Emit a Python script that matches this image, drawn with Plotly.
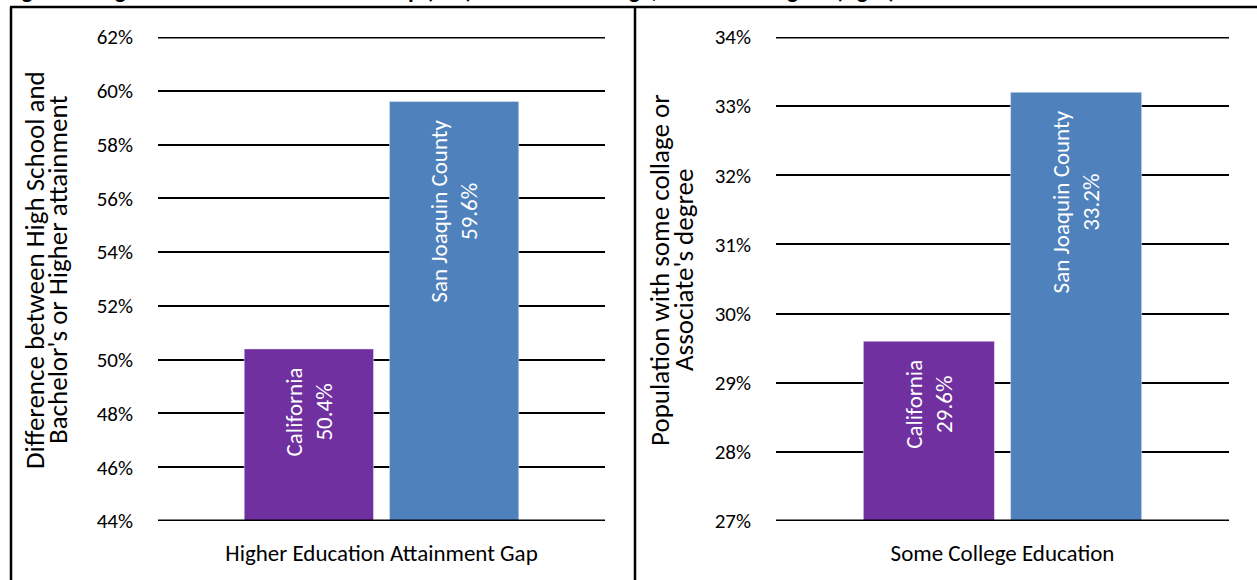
import plotly.graph_objects as go

regions = ["California", "San Joaquin County"]
gap_values = [50.4, 59.6]
some_college_values = [29.6, 33.2]
colors = ["#7030A0", "#4F81BD"]
left_category = "Higher Education Attainment Gap"
right_category = "Some College Education"
left_ticks = [44, 46, 48, 50, 52, 54, 56, 58, 60, 62]
right_ticks = [27, 28, 29, 30, 31, 32, 33, 34]
left_title = ["Difference between High School and", "Bachelor's or Higher attainment"]
right_title = ["Population with some collage or", "Associate's degree"]
title_text = "Figure 4: Higher Education Attainment Gap (left) and Some College, Associate Degree (right)"

FONT = "Carlito, Lato, Open Sans, sans-serif"
W, H = 1257, 580
NB = "\u00a0"

fig = go.Figure()
for i, r in enumerate(regions):
    fig.add_trace(go.Bar(
        x=[left_category], y=[gap_values[i]], name=r, marker_color=colors[i],
        text=[f"{r}{NB*3}<br>{gap_values[i]:.1f}%{NB*3}"], textposition="inside",
        insidetextanchor="end", textangle=-90,
        textfont=dict(color="white", size=23, family=FONT),
        xaxis="x", yaxis="y", showlegend=False))
for i, r in enumerate(regions):
    fig.add_trace(go.Bar(
        x=[right_category], y=[some_college_values[i]], name=r, marker_color=colors[i],
        text=[f"{r}{NB*3}<br>{some_college_values[i]:.1f}%{NB*3}"], textposition="inside",
        insidetextanchor="end", textangle=-90,
        textfont=dict(color="white", size=23, family=FONT),
        xaxis="x2", yaxis="y2", showlegend=False))

ydom = [1 - 521 / H, 1 - 37 / H]
common_y = dict(showgrid=True, gridcolor="black", gridwidth=1.6, zeroline=False,
                showline=False, ticks="", ticklabelstandoff=24, automargin=False,
                tickfont=dict(size=21, family=FONT, color="black"), domain=ydom)
common_x = dict(showgrid=False, showline=False, ticks="", zeroline=False,
                automargin=False, ticklabelstandoff=16,
                tickfont=dict(size=23, family=FONT, color="black"))

fig.update_layout(
    width=W, height=H, margin=dict(l=0, r=0, t=0, b=0),
    paper_bgcolor="white", plot_bgcolor="white",
    barmode="group", bargap=0.35, bargroupgap=0.11,
    font=dict(family=FONT, color="black"),
    xaxis=dict(domain=[158 / W, 605 / W], anchor="y", **common_x),
    yaxis=dict(range=[left_ticks[0], left_ticks[-1]], tickvals=left_ticks,
               ticktext=[f"{v}%" for v in left_ticks], anchor="x", **common_y),
    xaxis2=dict(domain=[776 / W, 1229 / W], anchor="y2", **common_x),
    yaxis2=dict(range=[right_ticks[0], right_ticks[-1]], tickvals=right_ticks,
                ticktext=[f"{v}%" for v in right_ticks], anchor="x2", **common_y),
)

# gridlines at the range edges (plotly omits them); half is clipped by the plot area
for xr, yr, ticks in (("x domain", "y", left_ticks), ("x2 domain", "y2", right_ticks)):
    for v in (ticks[0], ticks[-1]):
        fig.add_shape(type="line", xref=xr, yref=yr, x0=0, x1=1, y0=v, y1=v,
                      line=dict(color="black", width=3.2), layer="above")

# rotated axis titles, one annotation per line
for xs, lines in (((35, 58), left_title), ((660, 684), right_title)):
    for xp, txt in zip(xs, lines):
        fig.add_annotation(text=txt, xref="paper", yref="paper", x=xp / W, y=1 - 270 / H,
                           xanchor="center", yanchor="middle", textangle=-90, showarrow=False,
                           font=dict(size=27, family=FONT, color="black"))

# panel borders
line = dict(color="black", width=2.5)
fig.add_shape(type="line", xref="paper", yref="paper", x0=10 / W, x1=1, y0=1 - 7 / H, y1=1 - 7 / H, line=line)
fig.add_shape(type="line", xref="paper", yref="paper", x0=11 / W, x1=11 / W, y0=0, y1=1 - 7 / H, line=line)
fig.add_shape(type="line", xref="paper", yref="paper", x0=635 / W, x1=635 / W, y0=0, y1=1 - 7 / H, line=line)

# clipped title
fig.add_annotation(text=f"<b>{title_text}</b>", xref="paper", yref="paper",
                   x=3 / W, y=1 - 6 / H, xanchor="left", yanchor="bottom",
                   showarrow=False, font=dict(size=23.5, family=FONT, color="black"))

fig.write_html("out.html")
